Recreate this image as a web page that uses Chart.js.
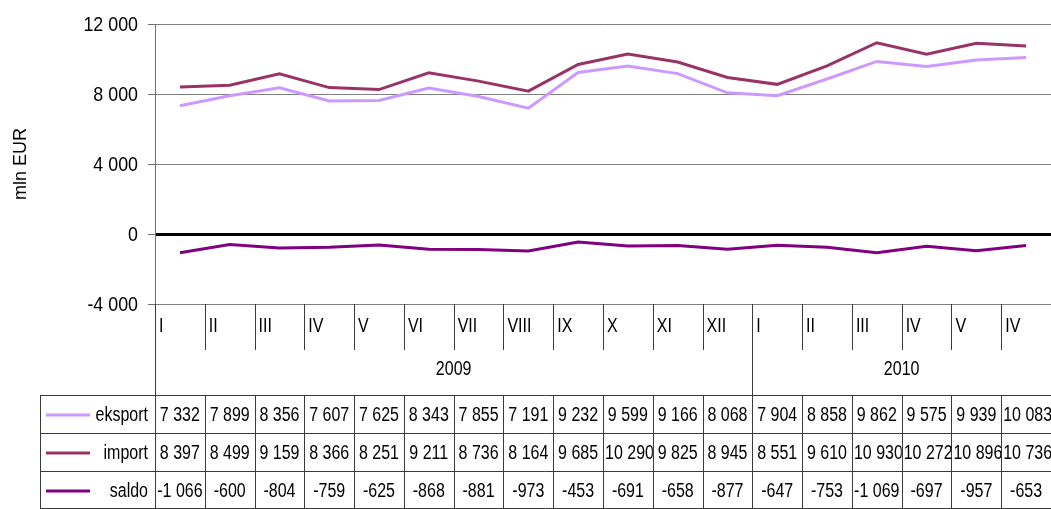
<!DOCTYPE html>
<html>
<head>
<meta charset="utf-8">
<script src="https://cdn.jsdelivr.net/npm/chart.js@4/dist/chart.umd.min.js"></script>
<style>
  html, body { margin: 0; padding: 0; background: #fff; }
  #wrap { width: 1051px; height: 509px; }
</style>
</head>
<body>
<div id="wrap"><canvas id="chart" width="1051" height="509"></canvas></div>
<script>
// monthly trade, mln EUR
const months = ['I', 'II', 'III', 'IV', 'V', 'VI', 'VII', 'VIII', 'IX', 'X', 'XI', 'XII',
                'I', 'II', 'III', 'IV', 'V', 'IV'];
const yearLabels = ['2009', '2010'];
const yearStarts = [0, 12];
const eksport = [7332, 7899, 8356, 7607, 7625, 8343, 7855, 7191, 9232, 9599, 9166, 8068,
                 7904, 8858, 9862, 9575, 9939, 10083];
const importVals = [8397, 8499, 9159, 8366, 8251, 9211, 8736, 8164, 9685, 10290, 9825, 8945,
                    8551, 9610, 10930, 10272, 10896, 10736];
const saldo = [-1066, -600, -804, -759, -625, -868, -881, -973, -453, -691, -658, -877,
               -647, -753, -1069, -697, -957, -653];
const yTicks = [-4000, 0, 4000, 8000, 12000];

const seriesNames = ['eksport', 'import', 'saldo'];
const seriesColors = ['#CC99FF', '#993366', '#800080'];
const seriesData = [eksport, importVals, saldo];

const FONT = '"Liberation Sans", Arial, sans-serif';
const SQUEEZE = 0.8; // table text is set narrow

function fmt(v) {
    const s = String(Math.abs(v)).replace(/\B(?=(\d{3})+(?!\d))/g, ' ');
    return (v < 0 ? '-' : '') + s;
}

// draws narrow text; align is 'left' | 'center' | 'right'
function narrowText(ctx, txt, x, y, align, squeeze = SQUEEZE) {
    ctx.save();
    ctx.translate(x, y);
    ctx.scale(squeeze, 1);
    ctx.textAlign = align;
    ctx.fillText(txt, 0, 0);
    ctx.restore();
}

// y tick labels, drawn narrow like the table
const tickLabels = {
    id: 'tickLabels',
    afterDraw(chart) {
        const ctx = chart.ctx;
        const y = chart.scales.y;
        ctx.save();
        ctx.fillStyle = '#000';
        ctx.font = '21px ' + FONT;
        ctx.textBaseline = 'middle';
        yTicks.forEach(v => narrowText(ctx, fmt(v), 138, y.getPixelForValue(v) + 1, 'right', 0.85));
        ctx.restore();
    }
};

// category row, year row and the data table under the plot
const tablePlugin = {
    id: 'dataTable',
    afterDraw(chart) {
        const ctx = chart.ctx;
        const area = chart.chartArea;
        const n = months.length;
        const w = (area.right - area.left) / n;
        const edge = i => area.left + i * w;

        const axisY = area.bottom;
        const catBottom = 350;
        const tableTop = 395;
        const rowH = 38;
        const tableBottom = tableTop + rowH * 3;
        const legendLeft = 40;

        ctx.save();
        ctx.strokeStyle = '#3a3a3a';
        ctx.lineWidth = 1;

        // horizontal rules
        ctx.beginPath();
        ctx.moveTo(legendLeft, tableTop + 0.5);
        ctx.lineTo(chart.width, tableTop + 0.5);
        for (let r = 1; r <= 3; r++) {
            const yy = Math.min(tableTop + r * rowH, chart.height - 1) + 0.5;
            ctx.moveTo(legendLeft, yy);
            ctx.lineTo(chart.width, yy);
        }
        // left edge of the legend column
        ctx.moveTo(legendLeft + 0.5, tableTop);
        ctx.lineTo(legendLeft + 0.5, tableBottom);
        // axis line continued down through the table
        ctx.moveTo(Math.round(area.left) + 0.5, axisY);
        ctx.lineTo(Math.round(area.left) + 0.5, tableBottom);
        // category separators; the year boundary runs all the way down
        for (let i = 1; i < n; i++) {
            const xx = Math.round(edge(i)) + 0.5;
            const isYear = yearStarts.includes(i);
            ctx.moveTo(xx, axisY);
            ctx.lineTo(xx, isYear ? tableBottom : catBottom);
            if (!isYear) {
                ctx.moveTo(xx, tableTop);
                ctx.lineTo(xx, tableBottom);
            }
        }
        ctx.stroke();

        ctx.fillStyle = '#000';
        ctx.font = '20px ' + FONT;
        ctx.textBaseline = 'middle';

        // month labels
        months.forEach((m, i) => narrowText(ctx, m, edge(i) + 4, 326, 'left'));

        // year labels
        yearLabels.forEach((y, k) => {
            const from = yearStarts[k];
            const to = k + 1 < yearStarts.length ? yearStarts[k + 1] : n;
            narrowText(ctx, y, (edge(from) + edge(to)) / 2, 369, 'center');
        });

        // table rows
        seriesNames.forEach((name, r) => {
            const cy = tableTop + r * rowH + rowH / 2 + 1;
            ctx.strokeStyle = seriesColors[r];
            ctx.lineWidth = 3;
            ctx.beginPath();
            ctx.moveTo(46, cy);
            ctx.lineTo(90, cy);
            ctx.stroke();
            narrowText(ctx, name, 148, cy, 'right');

            seriesData[r].forEach((v, i) => {
                const left = edge(i);
                const txt = fmt(v);
                ctx.save();
                ctx.beginPath();
                ctx.rect(left + 1, tableTop + r * rowH + 1, w - 1, rowH - 1);
                ctx.clip();
                if (ctx.measureText(txt).width * SQUEEZE > w - 4) {
                    narrowText(ctx, txt, left + 2, cy, 'left');
                } else {
                    narrowText(ctx, txt, left + w / 2, cy, 'center');
                }
                ctx.restore();
            });
        });
        ctx.restore();
    }
};

new Chart(document.getElementById('chart'), {
    type: 'line',
    data: {
        labels: months,
        datasets: seriesNames.map((name, i) => ({
            label: name,
            data: seriesData[i],
            borderColor: seriesColors[i],
            backgroundColor: seriesColors[i],
            borderWidth: 3,
            pointRadius: 0,
            tension: 0
        }))
    },
    options: {
        responsive: false,
        animation: false,
        layout: { padding: { top: 24, right: 0, bottom: 205, left: 0 } },
        plugins: {
            legend: { display: false },
            tooltip: { enabled: false }
        },
        scales: {
            x: {
                offset: true,
                display: false,
                grid: { display: false }
            },
            y: {
                min: -4000,
                max: 12000,
                afterFit(scale) { scale.width = 155; },
                afterBuildTicks(scale) { scale.ticks = yTicks.map(v => ({ value: v })); },
                border: { display: true, color: '#6f6f6f', width: 1 },
                grid: {
                    color: ctx => ctx.tick && ctx.tick.value === 0 ? '#000' : '#7f7f7f',
                    lineWidth: ctx => ctx.tick && ctx.tick.value === 0 ? 3 : 1,
                    tickColor: '#6f6f6f',
                    tickWidth: 1,
                    tickLength: 7
                },
                ticks: { display: false },
                title: {
                    display: true,
                    text: 'mln EUR',
                    color: '#000',
                    font: { family: FONT, size: 18 },
                    padding: { top: 10, bottom: 0 }
                }
            }
        }
    },
    plugins: [tickLabels, tablePlugin]
});
</script>
</body>
</html>
